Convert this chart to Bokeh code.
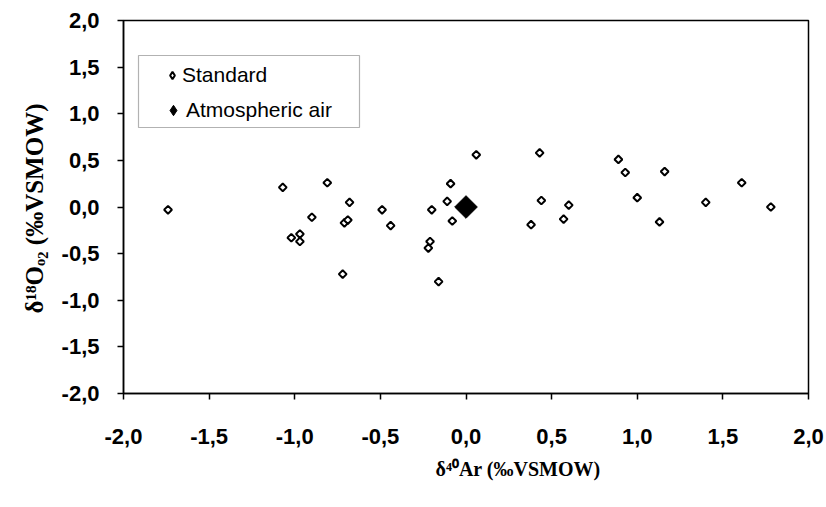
import numpy as np
from bokeh.plotting import figure
from bokeh.models import (Range1d, FixedTicker, Legend, LegendItem, Title, BoxAnnotation)
from bokeh.embed import file_html
from bokeh.resources import INLINE

# ---- data ----
std_x = [-1.74, -1.07, -0.81, -0.68, -0.90, -0.49, -0.44, -0.71, -0.69, -1.02,
         -0.97, -0.97, -0.72, -0.20, -0.11, -0.09, -0.08, -0.21, -0.22, -0.16,
         0.06, 0.43, 0.44, 0.38, 0.60, 0.57, 0.89, 0.93, 1.16, 1.00,
         1.13, 1.40, 1.61, 1.78]
std_y = [-0.03, 0.21, 0.26, 0.05, -0.11, -0.03, -0.20, -0.17, -0.14, -0.33,
         -0.29, -0.37, -0.72, -0.03, 0.06, 0.25, -0.15, -0.37, -0.44, -0.80,
         0.56, 0.58, 0.07, -0.19, 0.02, -0.13, 0.51, 0.37, 0.38, 0.10,
         -0.16, 0.05, 0.26, 0.00]
air_x = [0.0]
air_y = [0.0]

x_ticks = [-2.0, -1.5, -1.0, -0.5, 0.0, 0.5, 1.0, 1.5, 2.0]
x_tick_labels = ["-2,0", "-1,5", "-1,0", "-0,5", "0,0", "0,5", "1,0", "1,5", "2,0"]
y_ticks = [-2.0, -1.5, -1.0, -0.5, 0.0, 0.5, 1.0, 1.5, 2.0]
y_tick_labels = ["-2,0", "-1,5", "-1,0", "-0,5", "0,0", "0,5", "1,0", "1,5", "2,0"]

series_names = ["Standard", "Atmospheric air"]
x_title = "δ⁴⁰Ar (‰VSMOW)"
y_title = "δ¹⁸Oₒ₂ (‰VSMOW)"

# ---- figure ----
W, H = 826, 507
p = figure(width=W, height=H, output_backend="svg", toolbar_location=None,
           x_range=Range1d(-2, 2), y_range=Range1d(-2, 2),
           min_border_left=123, min_border_right=18, min_border_top=20,
           min_border_bottom=114)
p.background_fill_color = "white"
p.border_fill_color = "white"
p.grid.visible = False
p.outline_line_color = "black"
p.outline_line_width = 1.5

for ax, ticks, labels in ((p.xaxis, x_ticks, x_tick_labels), (p.yaxis, y_ticks, y_tick_labels)):
    ax.ticker = FixedTicker(ticks=ticks)
    ax.major_label_overrides = {t: l for t, l in zip(ticks, labels)}
    ax.major_tick_out = 6
    ax.major_tick_in = 0
    ax.minor_tick_out = 0
    ax.minor_tick_in = 0
    ax.axis_line_color = "black"
    ax.axis_line_width = 1.5
    ax.major_tick_line_width = 1.5
    ax.major_tick_line_color = "black"
    ax.major_label_text_font = "Liberation Sans"
    ax.major_label_text_font_style = "bold"
    ax.major_label_text_font_size = "22px"
    ax.major_label_text_color = "black"
p.yaxis.major_label_standoff = 18
p.xaxis.major_label_standoff = 29

r_std = p.scatter(std_x, std_y, marker="square", angle=np.pi / 4, size=5.5,
                  fill_color="white", line_color="black", line_width=2)
r_air = p.scatter(air_x, air_y, marker="square", angle=np.pi / 4, size=16,
                  fill_color="black", line_color="black", line_width=1)

# legend swatches (diamond markers; legend glyphs are never rotated)
k_std = p.scatter([np.nan], [np.nan], marker="diamond", fill_color="white",
                  line_color="black", line_width=2)
k_air = p.scatter([np.nan], [np.nan], marker="diamond", fill_color="black",
                  line_color="black", line_width=1)

# legend frame
box = BoxAnnotation(left=15, right=236, top=338, bottom=266,
                    left_units="screen", right_units="screen",
                    top_units="screen", bottom_units="screen",
                    fill_color="white", fill_alpha=1.0,
                    line_color="black", line_width=1.2)
p.add_layout(box)

common = dict(padding=0, margin=0, border_line_alpha=0, background_fill_alpha=0,
              label_text_font="Liberation Sans", label_text_font_size="21px",
              label_text_color="black")
lg1 = Legend(items=[LegendItem(label=series_names[0], renderers=[k_std])],
             location=(40, 306), glyph_width=18, glyph_height=24, label_height=24,
             label_standoff=1, **common)
lg2 = Legend(items=[LegendItem(label=series_names[1], renderers=[k_air])],
             location=(37, 270), glyph_width=26, glyph_height=26, label_height=24,
             label_standoff=-2, **common)
p.add_layout(lg1)
p.add_layout(lg2)

# axis titles (placed as side-panel titles so they can sit off-centre)
xt = Title(text=x_title, align="left", offset=312, standoff=18,
           text_font="Liberation Serif", text_font_style="bold",
           text_font_size="20px", text_color="black")
p.add_layout(xt, "below")
yt = Title(text=y_title, align="left", offset=80, standoff=22,
           text_font="Liberation Serif", text_font_style="bold",
           text_font_size="25px", text_color="black")
p.add_layout(yt, "left")

open("out.html", "w").write(file_html(p, INLINE))
